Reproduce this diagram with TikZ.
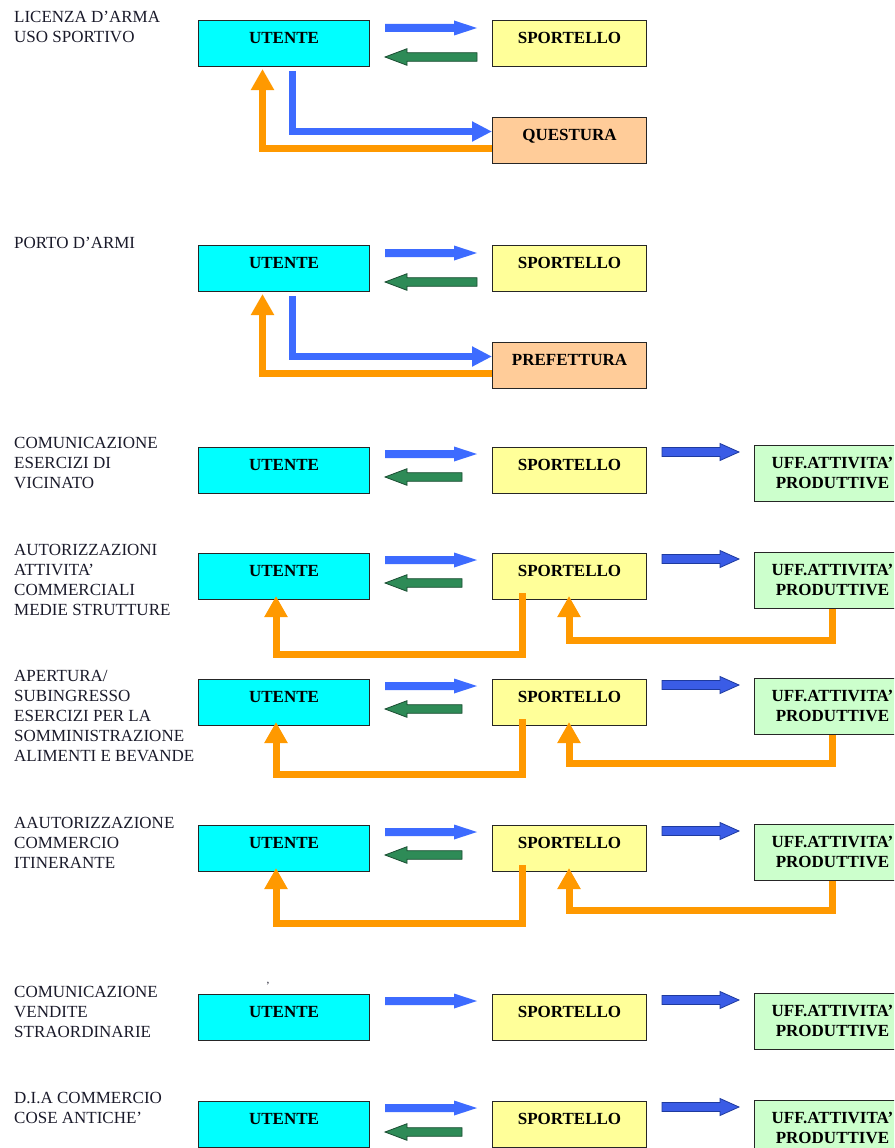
\documentclass[tikz,border=0pt]{standalone}
\usepackage{fontspec}
\setmainfont{Liberation Serif}
\usetikzlibrary{arrows.meta,calc}
\definecolor{cyanbox}{HTML}{00FFFF}
\definecolor{yellowbox}{HTML}{FFFF99}
\definecolor{peachbox}{HTML}{FFCC99}
\definecolor{greenbox}{HTML}{CCFFCC}
\definecolor{bluearr}{HTML}{3D6BFF}
\definecolor{bluearrB}{HTML}{3A5CE6}
\definecolor{bluearrBd}{HTML}{1E3A9E}
\definecolor{greenarr}{HTML}{2E8B57}
\definecolor{greenarrd}{HTML}{1B4D32}
\definecolor{orangearr}{HTML}{FF9900}
\definecolor{labelink}{HTML}{1A1A2A}
\newcommand\lbl[1]{\parbox[t]{195pt}{\fontsize{17}{20}\selectfont\raggedright #1}}
\newcommand\uff{\parbox[t]{156pt}{\centering UFF.ATTIVITA’\\PRODUTTIVE}}
% #1 style, #2 from, #3 to, #4 shaft half, #5 head half, #6 head length
\newcommand\fatarrow[6]{%
  \path[#1] let \p1=(#2), \p2=(#3), \n1={sign(\x2-\x1)} in
    ({\x1},{\y1+#4}) -- ({\x2-\n1*#6},{\y1+#4}) -- ({\x2-\n1*#6},{\y1+#5}) --
    ({\x2},{\y1}) -- ({\x2-\n1*#6},{\y1-#5}) -- ({\x2-\n1*#6},{\y1-#4}) --
    ({\x1},{\y1-#4}) -- cycle;}
\tikzset{
  boxbase/.style={draw=black!85, line width=1pt, anchor=north west, inner xsep=0pt,
    inner ysep=0pt, text height=23pt, text depth=23pt,
    font=\fontsize{17}{20}\selectfont\bfseries, align=center},
  ubox/.style={boxbase, fill=cyanbox, minimum width=171pt},
  sbox/.style={boxbase, fill=yellowbox, minimum width=154pt},
  qbox/.style={boxbase, fill=peachbox, minimum width=154pt},
  uffbox/.style={boxbase, fill=greenbox, minimum width=156pt, text depth=33pt},
  lbltext/.style={anchor=base west, inner sep=0pt, text=labelink},
  orangeflow/.style={draw=orangearr, line width=7pt, line join=miter,
    -{Triangle[length=21pt,width=22pt]}},
  blueL/.style={draw=bluearr, line width=7pt, line join=miter,
    -{Triangle[length=20pt,width=19pt]}},
  blueA/.style={fill=bluearr},
  greenA/.style={fill=greenarr, draw=greenarrd, line width=0.8pt},
  blueB/.style={fill=bluearrB, draw=bluearrBd, line width=0.8pt},
}
\begin{document}
\begin{tikzpicture}[x=1pt,y=-1pt]
\useasboundingbox (0,0) rectangle (894,1148);
\clip (0,0) rectangle (894,1148);

% ---------- Row 1
\node[lbltext] (t1) at (14,23) {\lbl{LICENZA D’ARMA\\USO SPORTIVO}};
\node[ubox] (u1) at (198,20) {UTENTE};
\node[sbox] (s1) at (492,20) {SPORTELLO};
\node[qbox] (q1) at (492,117) {QUESTURA};
\fatarrow{blueA}{$(u1.north east)+(15,8)$}{$(s1.north west)+(-15,8)$}{4pt}{7.5pt}{23pt}
\fatarrow{greenA}{$(s1.north west)+(-15,37)$}{$(u1.north east)+(15,37)$}{4.3pt}{8.3pt}{22pt}
\draw[blueL] ($(u1.south)+(8.5,4)$) |- ($(q1.west)+(0,-9)$);
\draw[orangeflow] ($(q1.west)+(0,8)$) -| ($(u1.south)+(-21.5,2)$);

% ---------- Row 2
\node[lbltext] (t2) at (14,248) {\lbl{PORTO D’ARMI}};
\node[ubox] (u2) at (198,245) {UTENTE};
\node[sbox] (s2) at (492,245) {SPORTELLO};
\node[qbox] (q2) at (492,342) {PREFETTURA};
\fatarrow{blueA}{$(u2.north east)+(15,8)$}{$(s2.north west)+(-15,8)$}{4pt}{7.5pt}{23pt}
\fatarrow{greenA}{$(s2.north west)+(-15,37)$}{$(u2.north east)+(15,37)$}{4.3pt}{8.3pt}{22pt}
\draw[blueL] ($(u2.south)+(8.5,4)$) |- ($(q2.west)+(0,-9)$);
\draw[orangeflow] ($(q2.west)+(0,8)$) -| ($(u2.south)+(-21.5,2)$);

% ---------- Row 3
\node[lbltext] (t3) at (14,448) {\lbl{COMUNICAZIONE\\ESERCIZI DI\\VICINATO}};
\node[ubox] (u3) at (198,447) {UTENTE};
\node[sbox] (s3) at (492,447) {SPORTELLO};
\node[uffbox] (o3) at (754,445) {\uff};
\fatarrow{blueA}{$(u3.north east)+(15,7)$}{$(s3.north west)+(-15,7)$}{4pt}{7.5pt}{23pt}
\fatarrow{greenA}{$(s3.north west)+(-30,30)$}{$(u3.north east)+(15,30)$}{4.3pt}{8.3pt}{22pt}
\fatarrow{blueB}{$(s3.east |- o3.north)+(15,7)$}{$(o3.north west)+(-15,7)$}{4.5pt}{8.5pt}{19pt}

% ---------- Row 4
\node[lbltext] (t4) at (14,555) {\lbl{AUTORIZZAZIONI\\ATTIVITA’\\COMMERCIALI\\MEDIE STRUTTURE}};
\node[ubox] (u4) at (198,553) {UTENTE};
\node[sbox] (s4) at (492,553) {SPORTELLO};
\node[uffbox] (o4) at (754,552) {\uff};
\fatarrow{blueA}{$(u4.north east)+(15,7)$}{$(s4.north west)+(-15,7)$}{4pt}{7.5pt}{23pt}
\fatarrow{greenA}{$(s4.north west)+(-30,30)$}{$(u4.north east)+(15,30)$}{4.3pt}{8.3pt}{22pt}
\fatarrow{blueB}{$(s4.east |- o4.north)+(15,7)$}{$(o4.north west)+(-15,7)$}{4.5pt}{8.5pt}{19pt}
\draw[orangeflow] ($(s4.south west)+(30,-7)$) -- ++(0,61) -| ($(u4.south west)+(78,-4)$);
\draw[orangeflow] (o4.south) -- ++(0,31) -| ($(s4.south west)+(77,-4)$);

% ---------- Row 5
\node[lbltext] (t5) at (14,681) {\lbl{APERTURA/\\SUBINGRESSO\\ESERCIZI PER LA\\SOMMINISTRAZIONE\\ALIMENTI E BEVANDE}};
\node[ubox] (u5) at (198,679) {UTENTE};
\node[sbox] (s5) at (492,679) {SPORTELLO};
\node[uffbox] (o5) at (754,678) {\uff};
\fatarrow{blueA}{$(u5.north east)+(15,7)$}{$(s5.north west)+(-15,7)$}{4pt}{7.5pt}{23pt}
\fatarrow{greenA}{$(s5.north west)+(-30,30)$}{$(u5.north east)+(15,30)$}{4.3pt}{8.3pt}{22pt}
\fatarrow{blueB}{$(s5.east |- o5.north)+(15,7)$}{$(o5.north west)+(-15,7)$}{4.5pt}{8.5pt}{19pt}
\draw[orangeflow] ($(s5.south west)+(30,-7)$) -- ++(0,55) -| ($(u5.south west)+(78,-4)$);
\draw[orangeflow] (o5.south) -- ++(0,28) -| ($(s5.south west)+(77,-4)$);

% ---------- Row 6
\node[lbltext] (t6) at (14,828) {\lbl{AAUTORIZZAZIONE\\COMMERCIO\\ITINERANTE}};
\node[ubox] (u6) at (198,825) {UTENTE};
\node[sbox] (s6) at (492,825) {SPORTELLO};
\node[uffbox] (o6) at (754,824) {\uff};
\fatarrow{blueA}{$(u6.north east)+(15,7)$}{$(s6.north west)+(-15,7)$}{4pt}{7.5pt}{23pt}
\fatarrow{greenA}{$(s6.north west)+(-30,30)$}{$(u6.north east)+(15,30)$}{4.3pt}{8.3pt}{22pt}
\fatarrow{blueB}{$(s6.east |- o6.north)+(15,7)$}{$(o6.north west)+(-15,7)$}{4.5pt}{8.5pt}{19pt}
\draw[orangeflow] ($(s6.south west)+(30,-7)$) -- ++(0,58) -| ($(u6.south west)+(78,-4)$);
\draw[orangeflow] (o6.south) -- ++(0,29) -| ($(s6.south west)+(77,-4)$);

% ---------- Row 7
\node[lbltext] (t7) at (14,997) {\lbl{COMUNICAZIONE\\VENDITE\\STRAORDINARIE}};
\node[inner sep=0pt, font=\fontsize{11}{11}\selectfont, text=labelink] (c7) at (268,986) {’};
\node[ubox] (u7) at (198,994) {UTENTE};
\node[sbox] (s7) at (492,994) {SPORTELLO};
\node[uffbox] (o7) at (754,993) {\uff};
\fatarrow{blueA}{$(u7.north east)+(15,7)$}{$(s7.north west)+(-15,7)$}{4pt}{7.5pt}{23pt}
\fatarrow{blueB}{$(s7.east |- o7.north)+(15,7)$}{$(o7.north west)+(-15,7)$}{4.5pt}{8.5pt}{19pt}

% ---------- Row 8
\node[lbltext] (t8) at (14,1103) {\lbl{D.I.A COMMERCIO\\COSE ANTICHE’}};
\node[ubox] (u8) at (198,1101) {UTENTE};
\node[sbox] (s8) at (492,1101) {SPORTELLO};
\node[uffbox] (o8) at (754,1100) {\uff};
\fatarrow{blueA}{$(u8.north east)+(15,7)$}{$(s8.north west)+(-15,7)$}{4pt}{7.5pt}{23pt}
\fatarrow{greenA}{$(s8.north west)+(-30,31)$}{$(u8.north east)+(15,31)$}{4.3pt}{8.3pt}{22pt}
\fatarrow{blueB}{$(s8.east |- o8.north)+(15,7)$}{$(o8.north west)+(-15,7)$}{4.5pt}{8.5pt}{19pt}
\end{tikzpicture}
\end{document}
